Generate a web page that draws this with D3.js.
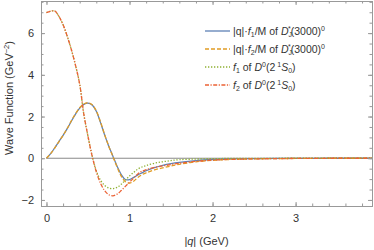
<!DOCTYPE html>
<html>
<head>
<meta charset="utf-8">
<script src="https://cdn.jsdelivr.net/npm/d3@7"></script>
<style>
  body { margin: 0; background: #fff; }
  text { font-family: "Liberation Sans", Arial, sans-serif; fill: #333; }
</style>
</head>
<body>
<svg width="374" height="250"></svg>
<script>
// momentum |q| in GeV
const qValues = [0, 0.05, 0.1, 0.15, 0.2, 0.25, 0.3, 0.35, 0.4, 0.45, 0.5, 0.55, 0.6, 0.65, 0.7, 0.75,
  0.8, 0.85, 0.9, 0.95, 1.0, 1.05, 1.1, 1.15, 1.2, 1.3, 1.4, 1.5, 1.6, 1.8, 2.0, 2.2, 2.5, 3.0, 3.5, 3.92];

const blueF1 = [0, 0.22, 0.5, 0.8, 1.1, 1.42, 1.78, 2.12, 2.4, 2.58, 2.64, 2.55, 2.25, 1.72, 1.12, 0.58,
  0.1, -0.38, -0.78, -1.02, -1.02, -0.92, -0.8, -0.7, -0.6, -0.45, -0.34, -0.26, -0.2, -0.11, -0.06, -0.035, -0.015, -0.005, 0, 0];

const orangeF2 = [0, 0.22, 0.5, 0.8, 1.1, 1.43, 1.8, 2.14, 2.42, 2.6, 2.66, 2.57, 2.27, 1.75, 1.14, 0.58,
  0.08, -0.42, -0.86, -1.12, -1.19, -1.1, -0.92, -0.79, -0.7, -0.56, -0.46, -0.37, -0.29, -0.17, -0.1, -0.06, -0.03, -0.01, 0, 0];

const greenF1 = [6.98, 7.05, 7.06, 6.8, 6.4, 5.85, 5.2, 4.45, 3.55, 2.1, 1.05, 0.12, -0.6, -1.05, -1.3, -1.43,
  -1.46, -1.4, -1.25, -1.05, -0.85, -0.68, -0.52, -0.42, -0.35, -0.24, -0.17, -0.11, -0.07, -0.04, -0.02, -0.01, -0.005, 0, 0, 0];

const redF2 = [6.98, 7.05, 7.06, 6.8, 6.4, 5.85, 5.2, 4.45, 3.55, 2.1, 1.05, 0.1, -0.65, -1.2, -1.55, -1.75,
  -1.8, -1.72, -1.55, -1.35, -1.15, -0.95, -0.75, -0.62, -0.55, -0.44, -0.37, -0.3, -0.24, -0.15, -0.09, -0.055, -0.03, -0.01, 0, 0];

const xTicks = [0, 1, 2, 3];
const yTicks = [-2, 0, 2, 4, 6];

const series = [
  { values: blueF1, color: '#5E81B5', dash: null },
  { values: orangeF2, color: '#E19C24', dash: '4,2' },
  { values: greenF1, color: '#8FB032', dash: '1.3,1.7' },
  { values: redF2, color: '#EB6235', dash: '4,1.5,1.2,1.5' }
];

const svg = d3.select('svg');
const margin = { top: 1, right: 2, bottom: 44, left: 41 };
const innerWidth = 374 - margin.left - margin.right;
const innerHeight = 250 - margin.top - margin.bottom;

const xscale = d3.scaleLinear().domain([-0.066, 3.92]).range([0, innerWidth]);
const yscale = d3.scaleLinear().domain([-2.29, 7.54]).range([innerHeight, 0]);

const g = svg.append('g').attr('transform', `translate(${margin.left},${margin.top})`);

g.append('clipPath').attr('id', 'clip')
  .append('rect').attr('width', innerWidth).attr('height', innerHeight);

// zero axis
g.append('line')
  .attr('x1', xscale(0)).attr('x2', innerWidth)
  .attr('y1', yscale(0)).attr('y2', yscale(0))
  .attr('stroke', '#888').attr('stroke-width', 1);

const line = values => d3.line()
  .x((d, i) => xscale(qValues[i]))
  .y(d => yscale(d))
  .curve(d3.curveCatmullRom.alpha(0.5))(values);

const plot = g.append('g').attr('clip-path', 'url(#clip)');
plot.selectAll('path').data(series).enter().append('path')
  .attr('d', d => line(d.values))
  .attr('fill', 'none')
  .attr('stroke', d => d.color)
  .attr('stroke-width', 1.3)
  .attr('stroke-dasharray', d => d.dash);

// frame with inward ticks
const frameColor = '#999';
const xMinor = d3.range(0, 3.95, 0.2);
const yMinor = d3.range(-2, 7.6, 0.5);

const bottomAxis = d3.axisBottom(xscale).tickValues(xTicks).tickSize(-4).tickPadding(8).tickFormat(d3.format('d'));
const leftAxis = d3.axisLeft(yscale).tickValues(yTicks).tickSize(-4).tickPadding(7).tickFormat(d3.format('d'));

const axes = [
  [bottomAxis, `translate(0,${innerHeight})`],
  [d3.axisBottom(xscale).tickValues(xMinor).tickSize(-2.5), `translate(0,${innerHeight})`],
  [d3.axisTop(xscale).tickValues(xTicks).tickSize(-4), 'translate(0,0)'],
  [d3.axisTop(xscale).tickValues(xMinor).tickSize(-2.5), 'translate(0,0)'],
  [leftAxis, 'translate(0,0)'],
  [d3.axisLeft(yscale).tickValues(yMinor).tickSize(-2.5), 'translate(0,0)'],
  [d3.axisRight(yscale).tickValues(yTicks).tickSize(-4), `translate(${innerWidth},0)`],
  [d3.axisRight(yscale).tickValues(yMinor).tickSize(-2.5), `translate(${innerWidth},0)`]
];
axes.forEach(([ax, tr], i) => {
  const a = g.append('g').attr('transform', tr).call(ax);
  a.selectAll('.domain').attr('stroke', frameColor);
  a.selectAll('.tick line').attr('stroke', frameColor);
  if (i === 0 || i === 4) {
    a.selectAll('text').style('font-size', '11px').attr('fill', '#333')
      .style('font-family', '"Liberation Sans", Arial, sans-serif');
  } else {
    a.selectAll('text').remove();
  }
});

// axis titles
const xt = svg.append('text')
  .attr('x', margin.left + innerWidth / 2).attr('y', 245)
  .attr('text-anchor', 'middle').style('font-size', '11px');
xt.append('tspan').text('|');
xt.append('tspan').attr('font-style', 'italic').text('q');
xt.append('tspan').text('| (GeV)');

const yt = svg.append('text')
  .attr('transform', 'translate(13,98) rotate(-90)')
  .attr('text-anchor', 'middle').style('font-size', '11px');
yt.append('tspan').text('Wave Function (GeV');
yt.append('tspan').attr('dy', -4).style('font-size', '7.5px').text('−2');
yt.append('tspan').attr('dy', 4).text(')');

// legend
const legend = svg.append('g').attr('transform', 'translate(205,31)');
const rowH = 18;
series.forEach((s, i) => {
  const row = legend.append('g').attr('transform', `translate(0,${i * rowH})`);
  row.append('line').attr('x1', 0).attr('x2', 25).attr('y1', 0).attr('y2', 0)
    .attr('stroke', s.color).attr('stroke-width', 1.3).attr('stroke-dasharray', s.dash);
  const t = row.append('text').attr('x', 28).attr('y', 3.7).style('font-size', '10.5px');
  const sub = (txt) => t.append('tspan').attr('dy', 2.5).style('font-size', '7px').text(txt);
  const up = (dy) => t.append('tspan').attr('dy', dy);
  if (i < 2) {
    t.append('tspan').text('|q|·');
    t.append('tspan').attr('font-style', 'italic').text('f');
    sub(i === 0 ? '1' : '2');
    up(-2.5).text('/M of ');
    t.append('tspan').attr('font-style', 'italic').text('D');
    sub('J');
    t.append('tspan').attr('dx', -4).attr('dy', -6.5).style('font-size', '7px').text('*');
    up(4).text('(3000)');
    t.append('tspan').attr('dy', -4).style('font-size', '7px').text('0');
  } else {
    t.append('tspan').attr('font-style', 'italic').text('f');
    sub(i === 2 ? '1' : '2');
    up(-2.5).text(' of ');
    t.append('tspan').attr('font-style', 'italic').text('D');
    t.append('tspan').attr('dy', -4).style('font-size', '7px').text('0');
    up(4).text('(2');
    t.append('tspan').attr('dy', -4).attr('dx', 2).style('font-size', '7px').text('1');
    t.append('tspan').attr('dy', 4).attr('font-style', 'italic').text('S');
    sub('0');
    up(-2.5).text(')');
  }
});
</script>
</body>
</html>
